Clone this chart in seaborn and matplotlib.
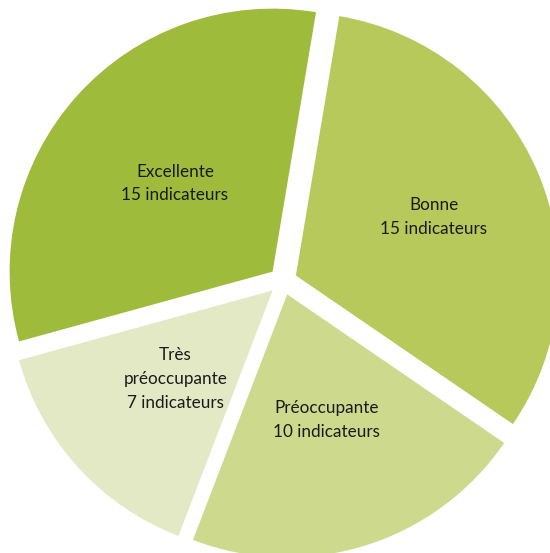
"""
Pie chart of indicator status counts.
"""
import matplotlib
matplotlib.use("Agg")
import matplotlib.pyplot as plt
import numpy as np
import seaborn as sns

# Data (clockwise from the top)
categories = ["Bonne", "Préoccupante", "Très\npréoccupante", "Excellente"]
counts = [15, 10, 7, 15]
unit = "indicateurs"
colors = ["#B7C95A", "#CDD98D", "#E3E9C5", "#9FBB3C"]
label_dist = [0.57, 0.5, 0.5, 0.5]

sns.set_theme(style="white")
plt.rcParams["font.family"] = ["Lato", "DejaVu Sans"]

labels = [f"{c}\n{n} {unit}" for c, n in zip(categories, counts)]

fig = plt.figure(figsize=(5.5, 5.53), dpi=100)
ax = fig.add_axes([0, 0, 1, 1])
# explode is in data units here (pixels), since radius is given in pixels
wedges, texts = ax.pie(
    counts,
    labels=labels,
    colors=colors,
    startangle=80.5,
    counterclock=False,
    explode=[14] * len(counts),
    radius=263,
    center=(283, 553 - 281),
    labeldistance=0.5,
    wedgeprops={"linewidth": 0},
    textprops={"fontsize": 12.3, "color": "#1a1a1a", "ha": "center", "va": "center",
               "linespacing": 1.6},
    frame=True,
)
# per-slice label distance from the (exploded) wedge apex
for w, t, d in zip(wedges, texts, label_dist):
    mid = np.deg2rad((w.theta1 + w.theta2) / 2)
    cx, cy = w.center
    t.set_position((cx + d * w.r * np.cos(mid), cy + d * w.r * np.sin(mid)))
    t.set_horizontalalignment("center")
    t.set_multialignment("center")

ax.set_xlim(0, 550)
ax.set_ylim(0, 553)
ax.set_aspect("equal")
ax.axis("off")

fig.savefig("out.png", dpi=100)
